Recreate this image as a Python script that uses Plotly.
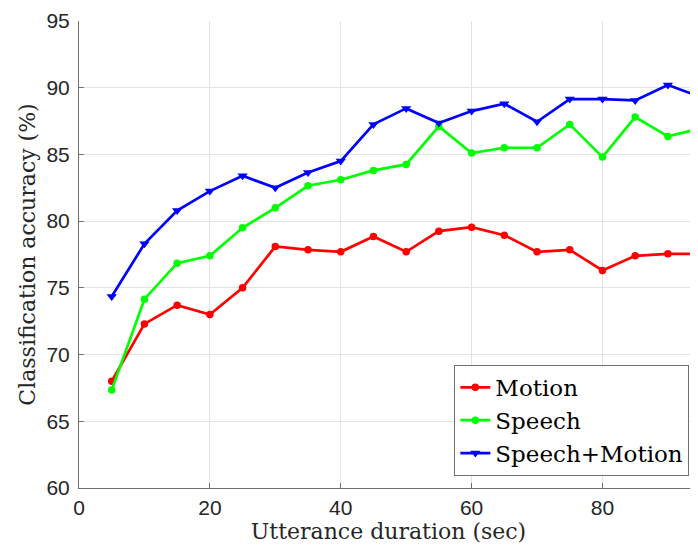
import plotly.graph_objects as go

durations = [5, 10, 15, 20, 25, 30, 35, 40, 45, 50, 55, 60, 65, 70, 75, 80, 85, 90, 95]
motion = [68.0, 72.3, 73.7, 73.0, 75.0, 78.1, 77.85, 77.7, 78.85, 77.7, 79.25, 79.55,
          78.95, 77.7, 77.85, 76.3, 77.4, 77.55, 77.55]
speech = [67.35, 74.15, 76.85, 77.4, 79.5, 81.0, 82.65, 83.1, 83.8, 84.25, 87.1, 85.1,
          85.5, 85.5, 87.25, 84.8, 87.8, 86.35, 86.95]
speech_motion = [74.35, 78.3, 80.8, 82.25, 83.4, 82.5, 83.65, 84.5, 87.25, 88.45, 87.35,
                 88.25, 88.8, 87.45, 89.15, 89.15, 89.05, 90.2, 89.3]

x_ticks = [0, 20, 40, 60, 80]
y_ticks = [60, 65, 70, 75, 80, 85, 90, 95]

serif = "DejaVu Serif"
sans = "Liberation Sans, Arial, sans-serif"

fig = go.Figure()
fig.add_trace(go.Scatter(x=durations, y=motion, name="Motion", mode="lines+markers",
                         line=dict(color="#ff0000", width=2.7),
                         marker=dict(symbol="circle", size=7.5, color="#ff0000")))
fig.add_trace(go.Scatter(x=durations, y=speech, name="Speech", mode="lines+markers",
                         line=dict(color="#00ff00", width=2.7),
                         marker=dict(symbol="circle", size=7.5, color="#00ff00")))
fig.add_trace(go.Scatter(x=durations, y=speech_motion, name="Speech+Motion", mode="lines+markers",
                         line=dict(color="#0000ff", width=2.7),
                         marker=dict(symbol="triangle-down", size=9, color="#0000ff")))

axis_common = dict(
    showline=True, linecolor="#707070", linewidth=1,
    showgrid=True, gridcolor="#e3e3e3", gridwidth=1,
    ticks="inside", ticklen=5, tickcolor="#707070",
    tickfont=dict(family=sans, size=21, color="#262626"),
    zeroline=False, mirror=False, automargin=False,
)

# the page body has an 8px margin, so the figure is drawn 8px smaller
fig.update_layout(
    width=690, height=542,
    margin=dict(l=71, r=0, t=13, b=62),
    paper_bgcolor="white", plot_bgcolor="white",
    xaxis=dict(range=[0, 94.6], tickvals=x_ticks,
               title=dict(text="Utterance duration (sec)", standoff=2,
                          font=dict(family=serif, size=22, color="#262626")),
               ticklabelstandoff=1,
               **axis_common),
    yaxis=dict(range=[60, 95], tickvals=y_ticks,
               title=dict(text="Classification accuracy (%)", standoff=4,
                          font=dict(family=serif, size=22, color="#262626")),
               ticklabelstandoff=4,
               **axis_common),
    legend=dict(x=0.986, y=0.026, xanchor="right", yanchor="bottom",
                bgcolor="white", bordercolor="#707070", borderwidth=1,
                font=dict(family=serif, size=23, color="#000000"),
                tracegroupgap=0, itemwidth=30),
    showlegend=True,
)

fig.write_html("out.html")
